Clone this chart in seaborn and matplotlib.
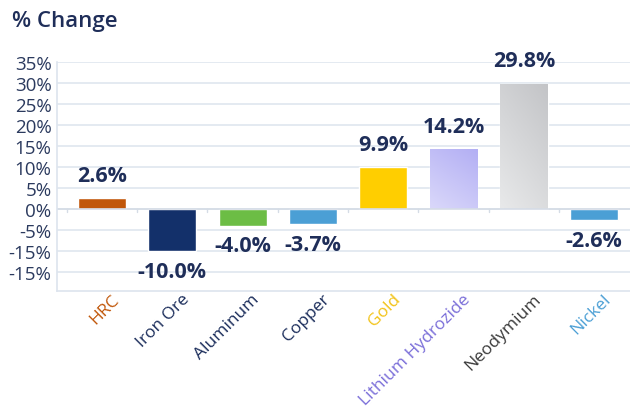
import numpy as np
import pandas as pd
import matplotlib
matplotlib.use("Agg")
import matplotlib.pyplot as plt
import matplotlib.transforms as mtransforms
from matplotlib.colors import LinearSegmentedColormap
import seaborn as sns

# Commodity price change data
categories = ["HRC", "Iron Ore", "Aluminum", "Copper", "Gold",
              "Lithium Hydrozide", "Neodymium", "Nickel"]
changes = [2.6, -10.0, -4.0, -3.7, 9.9, 14.2, 29.8, -2.6]
value_labels = ["2.6%", "-10.0%", "-4.0%", "-3.7%", "9.9%", "14.2%", "29.8%", "-2.6%"]
bar_colors = ["#C1570A", "#13306A", "#6CBD45", "#4B9FD5", "#FFCE00",
              "#BEBBF6", "#CDCED0", "#4B9FD5"]
label_colors = ["#C1570A", "#1B2D5B", "#1B2D5B", "#1B2D5B", "#F2C318",
                "#7B6FD9", "#3A3A3A", "#4B9FD5"]
y_ticks = [35, 30, 25, 20, 15, 10, 5, 0, -5, -10, -15]
y_tick_labels = ["35%", "30%", "25%", "20%", "15%", "10%", "5%", "0%",
                 "-5%", "-15%", "-15%"]

NAVY = "#1F2E59"
GRID = "#DDE4EE"

sns.set_theme(style="white")
plt.rcParams["font.family"] = ["Open Sans", "DejaVu Sans"]

df = pd.DataFrame({"category": categories, "change": changes})

fig = plt.figure(figsize=(6.3, 4.14), dpi=100)
ax = fig.add_axes([0.0905, 0.295, 0.9095, 0.553])

sns.barplot(data=df, x="category", y="change", hue="category",
            palette=bar_colors, legend=False, width=0.68,
            saturation=1, ax=ax)

ax.set_xlim(-0.64, 7.51)
ax.set_ylim(-19.5, 35)

# horizontal grid
ax.set_yticks(y_ticks)
ax.set_yticklabels(y_tick_labels)
ax.yaxis.grid(True, color=GRID, linewidth=1.1)
ax.set_axisbelow(True)
ax.tick_params(axis="y", length=0, pad=4, labelsize=13.5, labelcolor="#2B3A5E")

# soft gradients on the lithium and neodymium bars
gradients = {
    5: ["#DAD8FA", "#B3AFF4"],
    6: ["#E8E9EA", "#C3C4C7"],
}
for idx, cols in gradients.items():
    patch = ax.patches[idx]
    x0, y0 = patch.get_x(), patch.get_y()
    w, h = patch.get_width(), patch.get_height()
    cmap = LinearSegmentedColormap.from_list("g%d" % idx, cols)
    gx, gy = np.meshgrid(np.linspace(0, 1, 50), np.linspace(0, 1, 50))
    grad = 0.35 * gx + 0.65 * gy
    im = ax.imshow(grad, cmap=cmap, origin="lower", aspect="auto",
                   extent=(x0, x0 + w, y0, y0 + h), zorder=patch.get_zorder())
    im.set_clip_path(patch)
    patch.set_facecolor("none")
ax.set_xlim(-0.64, 7.51)
ax.set_ylim(-19.5, 35)

# zero line with small separators between categories
ax.axhline(0, color="#D5DCE6", linewidth=1.2, zorder=1)
sep_trans = mtransforms.blended_transform_factory(ax.transData, ax.transAxes)
zero_frac = 19.5 / 54.5
for b in np.arange(-0.5, 7.0, 1.0):
    ax.plot([b, b], [zero_frac, zero_frac - 0.012], color="#D5DCE6",
            linewidth=1, transform=sep_trans, zorder=1)

# value labels
for i, (v, txt) in enumerate(zip(changes, value_labels)):
    if v >= 0:
        ax.annotate(txt, (i, v), xytext=(0, 9), textcoords="offset points",
                    ha="center", va="bottom", fontsize=15.5,
                    fontweight="bold", color=NAVY)
    else:
        ax.annotate(txt, (i, v), xytext=(0, -7), textcoords="offset points",
                    ha="center", va="top", fontsize=15.5,
                    fontweight="bold", color=NAVY)

# category labels
ax.set_xticks(range(len(categories)))
ax.set_xticklabels(categories, rotation=45, ha="right",
                   rotation_mode="anchor", fontsize=12.5)
ax.tick_params(axis="x", length=0, pad=0)
shift = mtransforms.ScaledTranslation(9 / 100, 0, fig.dpi_scale_trans)
for lbl, col in zip(ax.get_xticklabels(), label_colors):
    lbl.set_color(col)
    lbl.set_transform(lbl.get_transform() + shift)

ax.set_xlabel("")
ax.set_ylabel("")

for side in ["top", "right"]:
    ax.spines[side].set_visible(False)
for side in ["left", "bottom"]:
    ax.spines[side].set_color(GRID)
    ax.spines[side].set_linewidth(1.2)

fig.text(12 / 630, 1 - 22 / 414, "% Change", fontsize=16,
         fontweight="semibold", color=NAVY, ha="left", va="center")

fig.savefig("out.png", dpi=100, facecolor="white")
